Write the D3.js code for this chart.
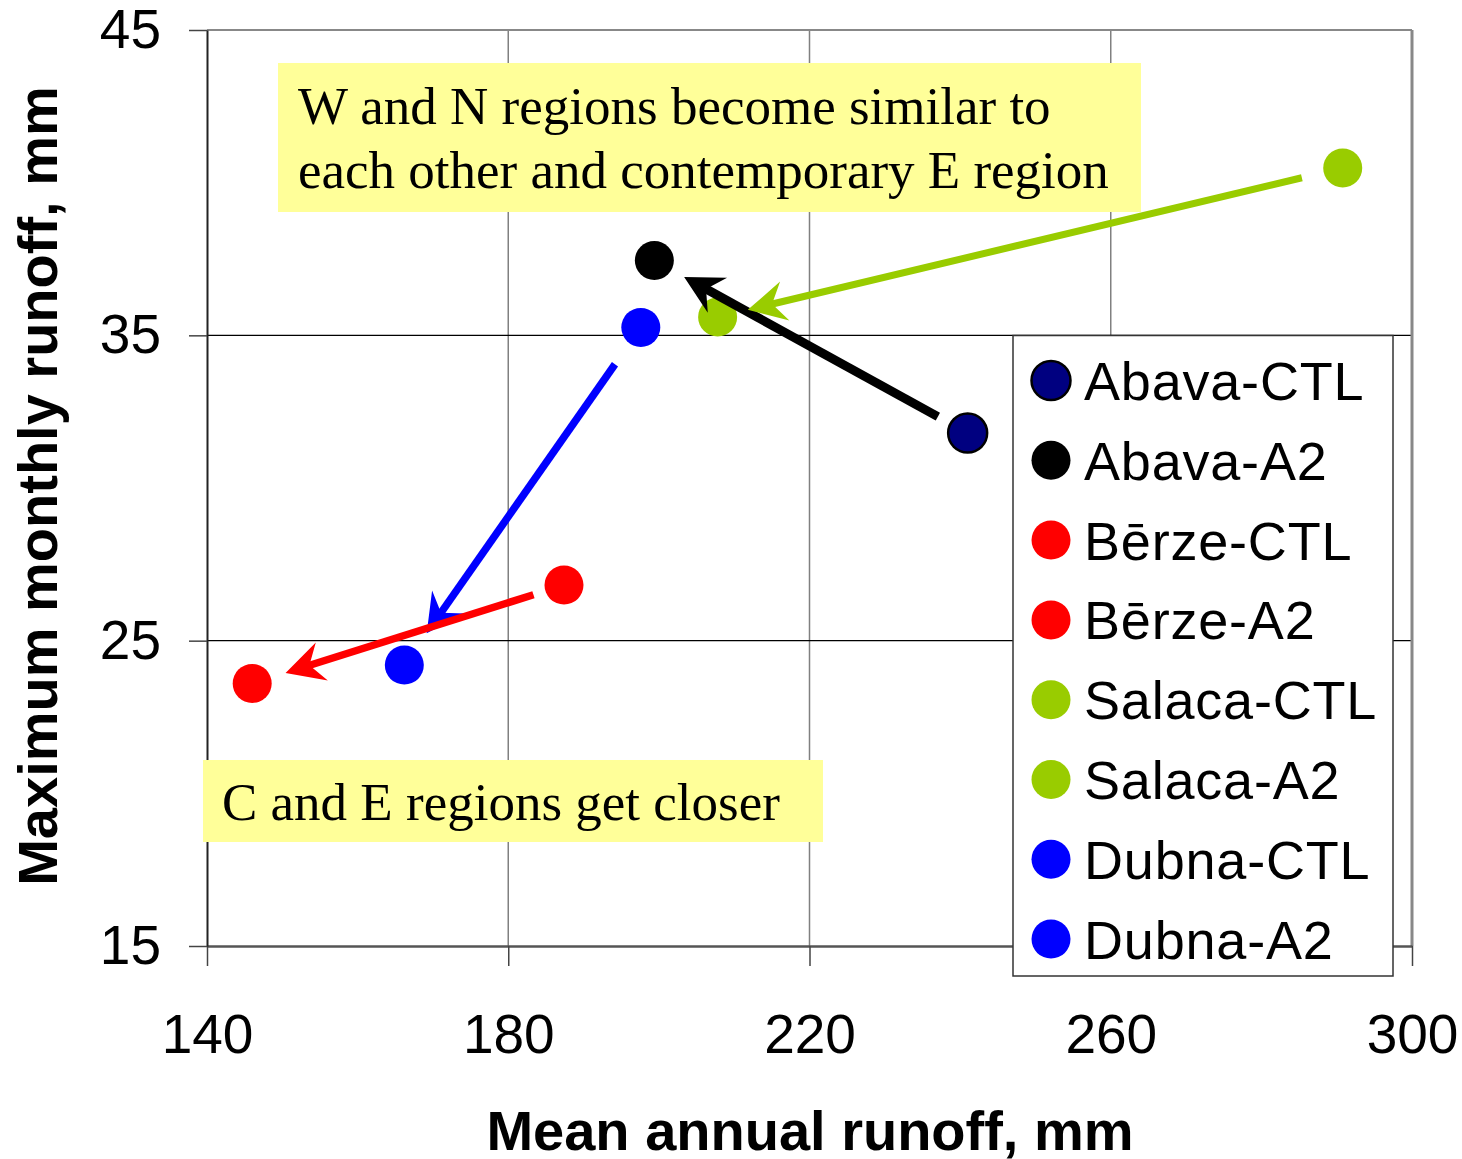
<!DOCTYPE html>
<html>
<head>
<meta charset="utf-8">
<script src="https://cdn.jsdelivr.net/npm/d3@7"></script>
<style>
  html, body { margin: 0; padding: 0; background: #fff; }
  svg { display: block; }
</style>
</head>
<body>
<svg id="chart" width="1462" height="1159"></svg>
<script>
// ---- data ----
const seriesNames = ["Abava-CTL", "Abava-A2", "Bērze-CTL", "Bērze-A2", "Salaca-CTL", "Salaca-A2", "Dubna-CTL", "Dubna-A2"];
const meanAnnual  = [241.0, 199.4, 187.4, 146.0, 290.8, 207.8, 197.6, 166.2];
const maxMonthly  = [31.8, 37.45, 26.82, 23.6, 40.48, 35.6, 35.26, 24.2];
const seriesColors = ["#000080", "#000000", "#FF0000", "#FF0000", "#99CC00", "#99CC00", "#0000FF", "#0000FF"];
const xTicks = [140, 180, 220, 260, 300];
const yTicks = [15, 25, 35, 45];
// arrows: from CTL index to A2 index
const arrowFrom = [0, 4, 6, 2];
const arrowTo   = [1, 5, 7, 3];
const arrowColors = ["#000000", "#99CC00", "#0000FF", "#FF0000"];
const notes = [
  ["W and N regions become similar to", "each other and contemporary E region"],
  ["C and E regions get closer"]
];

// ---- layout ----
const svg = d3.select("#chart");
const L = 207, R = 1412, T = 30, B = 946;
const x = d3.scaleLinear().domain([140, 300]).range([L, R]);
const y = d3.scaleLinear().domain([15, 45]).range([B, T]);
const sans = "'Liberation Sans', Arial, sans-serif";
const serif = "'Liberation Serif', 'Times New Roman', serif";

// vertical gridlines
svg.append("g").selectAll("line").data(xTicks.filter(d => d > 140 && d < 300)).join("line")
  .attr("x1", d => x(d)).attr("x2", d => x(d)).attr("y1", T).attr("y2", B)
  .attr("stroke", "#808080").attr("stroke-width", 1.5);
// horizontal gridlines
svg.append("g").selectAll("line").data(yTicks.filter(d => d > 15 && d < 45)).join("line")
  .attr("x1", L).attr("x2", R).attr("y1", d => y(d)).attr("y2", d => y(d))
  .attr("stroke", "#000").attr("stroke-width", 1.2);
// top & right border
svg.append("line").attr("x1", L).attr("x2", R).attr("y1", T).attr("y2", T)
  .attr("stroke", "#888").attr("stroke-width", 2);
svg.append("line").attr("x1", R).attr("x2", R).attr("y1", T).attr("y2", B)
  .attr("stroke", "#888").attr("stroke-width", 3);

// axes
const xAxis = svg.append("g").attr("transform", `translate(0,${B})`)
  .call(d3.axisBottom(x).tickValues(xTicks).tickSize(20).tickSizeOuter(0).tickPadding(48));
xAxis.select(".domain").attr("stroke", "#555").attr("stroke-width", 2.5);
xAxis.selectAll(".tick line").attr("stroke", "#444").attr("stroke-width", 1.5);
xAxis.selectAll(".tick text").attr("font-family", sans).attr("font-size", 55).attr("fill", "#000");

const yAxis = svg.append("g").attr("transform", `translate(${L},0)`)
  .call(d3.axisLeft(y).tickValues(yTicks).tickSize(18).tickSizeOuter(0).tickPadding(28));
yAxis.select(".domain").attr("stroke", "#222").attr("stroke-width", 2);
yAxis.selectAll(".tick line").attr("stroke", "#444").attr("stroke-width", 1.5);
yAxis.selectAll(".tick text").attr("font-family", sans).attr("font-size", 55).attr("fill", "#000");

// axis titles
svg.append("text").attr("x", 810).attr("y", 1150).attr("text-anchor", "middle")
  .attr("font-family", sans).attr("font-weight", "bold").attr("font-size", 56)
  .text("Mean annual runoff, mm");
svg.append("text").attr("transform", "translate(57,486) rotate(-90)").attr("text-anchor", "middle")
  .attr("font-family", sans).attr("font-weight", "bold").attr("font-size", 56)
  .text("Maximum monthly runoff, mm");

// annotation boxes
const boxes = [
  { x0: 278, y0: 63, x1: 1141, y1: 212, tx: 298, ty: 124 },
  { x0: 203, y0: 760, x1: 823, y1: 842, tx: 222, ty: 820 }
];
boxes.forEach((b, i) => {
  svg.append("rect").attr("x", b.x0).attr("y", b.y0).attr("width", b.x1 - b.x0).attr("height", b.y1 - b.y0)
    .attr("fill", "#FFFF99");
  const t = svg.append("text").attr("font-family", serif).attr("font-size", 53).attr("fill", "#000");
  notes[i].forEach((line, j) => {
    t.append("tspan").attr("x", b.tx).attr("y", b.ty + j * 64).text(line);
  });
});

// points
const pts = seriesNames.map((n, i) => ({ name: n, mx: meanAnnual[i], my: maxMonthly[i], color: seriesColors[i] }));
svg.append("g").selectAll("circle").data(pts).join("circle")
  .attr("cx", d => x(d.mx)).attr("cy", d => y(d.my)).attr("r", 19.5)
  .attr("fill", d => d.color)
  .attr("stroke", (d, i) => i === 0 ? "#000" : "none").attr("stroke-width", 2.5);

// arrows
const gapStart = [34, 42, 45, 32];
const gapEnd = [34, 31, 39, 35];
const widths = [9, 7, 7.5, 7.5];
const ag = svg.append("g");
arrowFrom.forEach((fi, k) => {
  const p0 = [x(meanAnnual[fi]), y(maxMonthly[fi])];
  const p1 = [x(meanAnnual[arrowTo[k]]), y(maxMonthly[arrowTo[k]])];
  const dx = p1[0] - p0[0], dy = p1[1] - p0[1];
  const len = Math.hypot(dx, dy);
  const ux = dx / len, uy = dy / len;
  const px = -uy, py = ux;
  const s = [p0[0] + ux * gapStart[k], p0[1] + uy * gapStart[k]];
  const tip = [p1[0] - ux * gapEnd[k], p1[1] - uy * gapEnd[k]];
  const hl = 38, hw = 20, notch = 25;
  const nb = [tip[0] - ux * notch, tip[1] - uy * notch];
  ag.append("line").attr("x1", s[0]).attr("y1", s[1]).attr("x2", nb[0] + ux * 3).attr("y2", nb[1] + uy * 3)
    .attr("stroke", arrowColors[k]).attr("stroke-width", widths[k]);
  const b1 = [tip[0] - ux * hl + px * hw, tip[1] - uy * hl + py * hw];
  const b2 = [tip[0] - ux * hl - px * hw, tip[1] - uy * hl - py * hw];
  ag.append("path").attr("d", `M${tip[0]},${tip[1]}L${b1[0]},${b1[1]}L${nb[0]},${nb[1]}L${b2[0]},${b2[1]}Z`)
    .attr("fill", arrowColors[k]);
});

// legend
const lg = svg.append("g");
lg.append("rect").attr("x", 1013).attr("y", 335.5).attr("width", 380).attr("height", 640.5)
  .attr("fill", "#fff").attr("stroke", "#333").attr("stroke-width", 1.5);
pts.forEach((d, i) => {
  const cy = 380.5 + i * 79.8;
  lg.append("circle").attr("cx", 1051).attr("cy", cy).attr("r", 19.5).attr("fill", d.color)
    .attr("stroke", i === 0 ? "#000" : "none").attr("stroke-width", 2.5);
  lg.append("text").attr("x", 1084).attr("y", cy + 19.5).attr("font-family", sans).attr("font-size", 54)
    .attr("letter-spacing", 0.8).attr("fill", "#000").text(d.name);
});
</script>
</body>
</html>
